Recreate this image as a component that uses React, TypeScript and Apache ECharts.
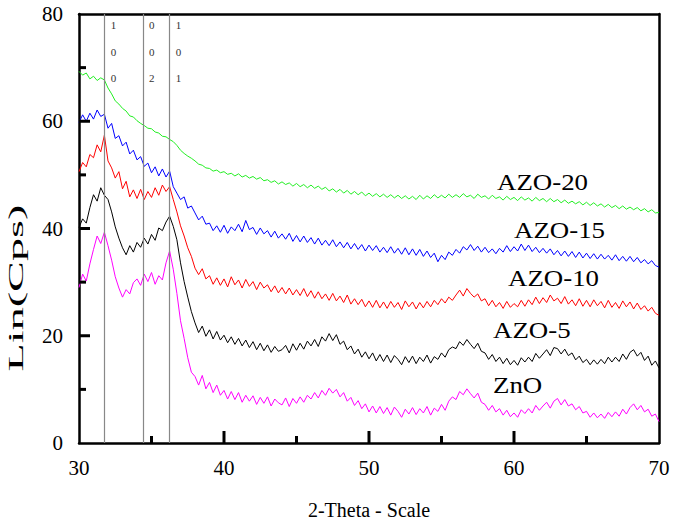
import React, { useEffect, useRef } from "react";
import * as echarts from "echarts";

const X_START = 30;
const X_STEP = 0.25;

const znO = [
  29.0, 31.5, 30.2, 33.4, 36.1, 38.6, 37.2, 39.3, 36.8, 34.1, 31.0, 28.9,
  27.2, 28.6, 27.8, 29.9, 30.6, 29.4, 31.5, 30.1, 31.8, 29.6, 31.2, 30.4,
  33.6, 35.8, 32.4, 27.9, 22.8, 19.5, 15.9, 13.2, 12.4, 10.8, 12.6, 10.1,
  11.3, 9.4, 10.8, 8.9, 9.8, 8.2, 9.6, 8.1, 9.4, 7.6, 8.9, 7.8,
  8.8, 7.2, 8.5, 7.4, 8.6, 6.9, 8.2, 7.5, 7.1, 8.4, 6.8, 8.3,
  7.4, 8.6, 7.6, 8.9, 8.2, 9.4, 8.4, 9.8, 8.9, 10.2, 9.3, 10.0,
  8.6, 9.4, 7.8, 8.5, 7.0, 7.9, 6.4, 7.3, 5.8, 6.9, 5.6, 6.8,
  5.5, 6.6, 5.2, 6.7, 5.9, 4.8, 6.3, 5.4, 6.6, 5.3, 6.4, 5.6,
  6.8, 5.2, 6.5, 5.9, 7.2, 6.1, 7.8, 8.6, 8.1, 9.6, 9.0, 10.1,
  9.2, 8.4, 9.3, 7.6, 7.2, 6.1, 7.0, 5.8, 6.4, 5.2, 6.1, 4.9,
  5.6, 4.8, 6.2, 5.5, 6.4, 5.6, 7.0, 6.1, 6.9, 7.6, 6.5, 7.8,
  8.3, 7.1, 8.1, 6.9, 7.3, 6.2, 6.8, 5.6, 5.9, 4.8, 5.6, 4.7,
  5.4, 4.6, 5.7, 4.9, 5.8, 5.0, 6.3, 5.4, 6.6, 7.3, 6.2, 7.0,
  5.8, 6.3, 5.0, 5.4, 4.0,
];

const azo5 = [
  40.2, 41.8, 41.0, 43.9, 46.3, 45.1, 47.6, 46.2, 45.4, 43.1, 40.3, 38.2,
  36.4, 35.1, 36.8, 35.6, 37.4, 36.5, 38.2, 37.1, 38.9, 37.8, 40.1, 39.6,
  41.2, 42.3, 40.4, 37.9, 33.6, 30.1, 27.2, 24.5, 22.4, 20.6, 21.8, 19.9,
  21.1, 19.4, 20.8, 19.2, 20.1, 18.7, 19.8, 18.4, 19.5, 18.1, 19.2, 17.8,
  18.9, 17.4, 18.6, 17.2, 18.3, 16.9, 18.0, 17.1, 17.4, 18.2, 16.8, 18.5,
  17.3, 18.6, 17.5, 19.0, 18.1, 19.3, 18.0, 19.8, 19.0, 20.4, 19.1, 20.2,
  18.4, 19.0, 17.4, 18.1, 16.6, 17.5, 16.0, 17.0, 15.7, 16.8, 15.3, 16.5,
  15.2, 16.4, 15.0, 16.3, 15.6, 14.6, 16.1, 15.0, 16.2, 14.8, 16.0, 15.2,
  16.4, 14.9, 16.1, 15.6, 16.8, 16.0, 17.4, 17.9, 17.6, 18.9, 18.2, 19.3,
  18.4, 17.6, 18.6, 17.1, 16.8, 15.6, 16.5, 15.2, 16.0, 14.8, 15.8, 14.6,
  15.4, 14.5, 15.9, 15.1, 16.0, 15.2, 16.7, 15.8, 16.6, 17.4, 16.3, 17.8,
  17.6, 16.6, 17.5, 16.3, 16.8, 15.5, 16.2, 15.0, 15.6, 14.6, 15.5, 14.7,
  15.6, 14.8, 16.0, 15.1, 16.0, 15.2, 16.6, 15.6, 16.9, 17.4, 16.2, 16.9,
  15.4, 16.2, 14.5, 15.3, 14.0,
];

const azo10 = [
  50.6, 52.3, 51.5, 53.8, 53.2, 55.6, 54.3, 57.4, 52.6, 51.3, 49.4, 50.6,
  47.4, 48.8, 45.9, 47.2, 45.6, 47.3, 45.4, 46.9, 45.8, 47.6, 46.2, 48.1,
  46.9, 47.8, 45.4, 43.1, 40.5, 38.6, 36.4, 34.8, 32.6, 31.4, 32.5, 30.6,
  31.2, 29.6, 30.8, 29.4, 30.6, 29.1, 31.0, 29.5, 30.4, 28.9, 30.5, 29.2,
  30.1, 28.6, 30.0, 28.9, 29.5, 28.2, 29.3, 28.0, 29.0, 27.8, 28.9, 27.6,
  28.6, 27.5, 28.8, 27.3, 28.4, 27.0, 28.2, 26.9, 27.8, 26.6, 27.9, 26.5,
  27.4, 26.2, 27.6, 25.9, 26.9, 25.8, 26.8, 25.4, 26.5, 25.3, 26.6, 25.2,
  26.3, 25.1, 26.4, 25.3, 26.2, 24.9, 26.5, 25.4, 26.3, 25.0, 26.2, 25.2,
  26.4, 25.4, 26.6, 25.8, 26.9, 26.1, 27.2, 26.6, 27.6, 28.5, 27.4, 28.8,
  27.9, 27.2, 27.8, 26.5, 26.9, 25.6, 26.6, 25.4, 26.2, 25.1, 26.4, 25.3,
  26.0, 25.4, 26.6, 25.5, 26.7, 25.8, 27.2, 26.0, 27.1, 26.2, 27.6, 26.5,
  27.0, 26.0, 27.3, 25.9, 26.7, 25.6, 26.9, 25.5, 26.6, 25.4, 26.7, 25.6,
  26.4, 25.2, 26.6, 25.3, 26.2, 25.1, 26.5, 25.4, 26.3, 25.0, 26.1, 24.9,
  25.6, 24.6, 25.3, 24.2, 23.8,
];

const azo15 = [
  59.8, 61.2, 60.0, 61.5, 60.4, 62.1, 60.9, 61.3, 58.7, 59.6, 56.8, 57.3,
  55.4, 56.1, 53.9, 54.6, 52.8, 53.4, 51.6, 52.2, 50.4, 51.5, 49.8, 51.1,
  49.6, 50.7, 47.8, 46.6, 45.4, 45.9, 43.8, 44.2, 42.9, 41.6, 42.3, 40.8,
  41.0, 39.6, 40.5, 39.3, 40.6, 39.1, 40.3, 39.6, 40.8, 39.4, 41.5, 39.8,
  40.2, 38.9, 40.1, 39.0, 39.6, 38.4, 39.5, 38.2, 39.0, 38.0, 39.1, 37.6,
  38.7, 37.5, 38.6, 37.4, 38.3, 37.1, 38.2, 36.9, 37.8, 36.8, 37.9, 36.6,
  37.5, 36.4, 37.4, 36.2, 37.2, 36.1, 37.0, 35.8, 36.9, 35.9, 36.8, 35.6,
  36.5, 35.5, 36.6, 35.4, 36.3, 35.2, 36.4, 35.1, 36.2, 35.0, 36.1, 34.8,
  35.8, 34.6, 35.4, 33.8, 35.0, 34.2, 35.6, 35.0, 36.1, 35.4, 36.6, 36.0,
  37.0, 35.9, 36.7, 35.6, 36.5, 35.5, 36.2, 35.3, 36.3, 35.6, 36.8, 35.7,
  36.6, 35.8, 37.1, 35.9, 36.9, 35.7, 36.5, 35.5, 36.3, 35.4, 36.2, 35.1,
  35.9, 34.9, 35.8, 34.8, 35.7, 34.6, 35.6, 34.5, 35.4, 34.4, 35.3, 34.3,
  35.2, 34.3, 35.0, 34.1, 35.1, 34.0, 34.8, 33.9, 34.8, 33.8, 34.6, 33.6,
  34.2, 33.4, 34.0, 33.1, 32.8,
];

const azo20 = [
  69.3, 68.6, 69.0, 67.9, 68.4, 67.6, 68.1, 67.7, 66.2, 65.1, 63.8, 63.2,
  62.4, 61.9, 61.0, 60.8, 60.1, 59.6, 59.2, 58.7, 58.6, 58.0, 57.8, 57.2,
  57.1, 56.6, 56.2, 55.5, 54.6, 54.0, 53.5, 53.1, 52.6, 52.0, 51.8, 51.3,
  51.2, 50.7, 50.9, 50.4, 50.6, 50.1, 50.3, 49.8, 50.2, 49.6, 49.9, 49.4,
  49.7, 49.2, 49.5, 48.9, 49.1, 48.6, 48.9, 48.3, 48.7, 48.2, 48.5, 47.9,
  48.4, 47.8, 48.2, 47.6, 48.1, 47.5, 47.9, 47.3, 47.7, 47.0, 47.4, 46.8,
  47.3, 46.6, 47.1, 46.4, 46.9, 46.3, 46.8, 46.1, 46.6, 46.0, 46.5, 45.9,
  46.4, 45.8, 46.3, 45.7, 46.2, 45.6, 46.1, 45.5, 46.0, 45.4, 46.2, 45.5,
  46.1, 45.6, 46.3, 45.7, 46.2, 45.7, 46.4, 45.8, 46.3, 45.8, 46.5, 45.9,
  46.2, 45.6, 46.4, 45.8, 46.1, 45.5, 46.2, 45.6, 45.9, 45.3, 46.0, 45.4,
  45.8, 45.2, 45.9, 45.3, 45.7, 45.1, 45.8, 45.2, 45.6, 45.0, 45.6, 45.0,
  45.4, 44.8, 45.3, 44.7, 45.1, 44.6, 45.0, 44.4, 44.9, 44.3, 44.8, 44.2,
  44.6, 44.0, 44.5, 43.9, 44.3, 43.7, 44.2, 43.6, 44.0, 43.5, 43.9, 43.3,
  43.7, 43.1, 43.5, 42.9, 43.0,
];

const seriesNames = ["ZnO", "AZO-5", "AZO-10", "AZO-15", "AZO-20"];
const seriesColors = ["#ff00ff", "#000000", "#ff0000", "#0000ff", "#22ee22"];
const seriesValues = [znO, azo5, azo10, azo15, azo20];

const peakPositions = [31.77, 34.42, 36.25];
const peakLabels = [["1", "0", "0"], ["0", "0", "2"], ["1", "0", "1"]];

const xTicks = [30, 40, 50, 60, 70];
const xMinorTicks = [35, 45, 55, 65];
const yTicks = [0, 20, 40, 60, 80];
const yMinorTicks = [10, 30, 50, 70];

const labelPos = [
  { name: "AZO-20", x: 497, y: 182 },
  { name: "AZO-15", x: 514, y: 230 },
  { name: "AZO-10", x: 508, y: 278 },
  { name: "AZO-5", x: 493, y: 330 },
  { name: "ZnO", x: 493, y: 385 },
];

const FONT = "'Liberation Serif', 'Times New Roman', serif";

export default function App() {
  const ref = useRef<HTMLDivElement>(null);
  useEffect(() => {
    if (!ref.current) return;
    const chart = echarts.init(ref.current, undefined, { renderer: "svg" });
    const series: any[] = seriesValues.map((vals, si) => ({
      name: seriesNames[si],
      type: "line",
      showSymbol: false,
      symbol: "none",
      data: vals.map((v, i) => [X_START + i * X_STEP, v]),
      lineStyle: { color: seriesColors[si], width: 1 },
      itemStyle: { color: seriesColors[si] },
      z: 3,
    }));
    series.push({
      type: "line",
      data: [],
      markLine: {
        silent: true,
        symbol: "none",
        label: { show: false },
        lineStyle: { color: "#888", width: 1.2, type: "solid" },
        data: peakPositions.map((p) => ({ xAxis: p })),
      },
      z: 2,
    });
    const axisLine = { show: true, onZero: false, lineStyle: { color: "#000", width: 2.5 } };
    chart.setOption({
      animation: false,
      backgroundColor: "#fff",
      grid: { left: 79, right: 16, top: 14, bottom: 77, outerBoundsMode: "none", containLabel: false },
      xAxis: [
        {
          type: "value",
          min: xTicks[0],
          max: xTicks[xTicks.length - 1],
          interval: 10,
          position: "bottom",
          axisLine,
          axisTick: { show: false },
          splitLine: { show: false },
          axisLabel: { color: "#000", fontFamily: FONT, fontSize: 21, margin: 14 },
          name: "2-Theta - Scale",
          nameLocation: "middle",
          nameGap: 57,
          nameTextStyle: { color: "#000", fontFamily: FONT, fontSize: 20 },
        },
        {
          type: "value",
          min: 30,
          max: 70,
          position: "top",
          axisLine,
          axisTick: { show: false },
          axisLabel: { show: false },
          splitLine: { show: false },
        },
      ],
      yAxis: [
        {
          type: "value",
          min: yTicks[0],
          max: yTicks[yTicks.length - 1],
          interval: 20,
          position: "left",
          axisLine,
          axisTick: { show: false },
          splitLine: { show: false },
          axisLabel: { color: "#000", fontFamily: FONT, fontSize: 21, margin: 16 },
        },
        {
          type: "value",
          min: 0,
          max: 80,
          position: "right",
          axisLine,
          axisTick: { show: false },
          axisLabel: { show: false },
          splitLine: { show: false },
        },
      ],
      series,
    });

    const graphics: any[] = labelPos.map((l) => ({
      type: "text",
      x: l.x,
      y: l.y,
      scaleX: 1.12,
      style: {
        text: l.name,
        fontFamily: FONT,
        fontSize: 24,
        fill: "#000",
        textAlign: "left",
        textVerticalAlign: "middle",
      },
      z: 10,
    }));
    graphics.push({
      type: "text",
      x: 16,
      y: 288,
      rotation: Math.PI / 2,
      scaleX: 2.1,
      style: {
        text: "Lin(Cps)",
        fontFamily: FONT,
        fontSize: 22,
        fill: "#000",
        textAlign: "center",
        textVerticalAlign: "middle",
      },
    });
    peakPositions.forEach((p, pi) => {
      const px = chart.convertToPixel({ xAxisIndex: 0 }, p) as number;
      peakLabels[pi].forEach((t, ti) => {
        graphics.push({
          type: "text",
          x: px + 6,
          y: 25 + ti * 26.5,
          style: {
            text: t,
            fontFamily: FONT,
            fontSize: 11,
            fill: "#333",
            textAlign: "left",
            textVerticalAlign: "middle",
          },
          z: 10,
        });
      });
    });
    // inward axis ticks, positioned through the axes' scales
    const y0 = chart.convertToPixel({ yAxisIndex: 0 }, yTicks[0]) as number;
    const x0 = chart.convertToPixel({ xAxisIndex: 0 }, xTicks[0]) as number;
    const addXTick = (v: number, len: number) => {
      const px = chart.convertToPixel({ xAxisIndex: 0 }, v) as number;
      graphics.push({
        type: "rect",
        shape: { x: px - 1.5, y: y0 - len, width: 3, height: len },
        style: { fill: "#000" },
        z: 50,
      });
    };
    const addYTick = (v: number, len: number) => {
      const py = chart.convertToPixel({ yAxisIndex: 0 }, v) as number;
      graphics.push({
        type: "rect",
        shape: { x: x0, y: py - 1.5, width: len, height: 3 },
        style: { fill: "#000" },
        z: 50,
      });
    };
    xTicks.slice(1, -1).forEach((v) => addXTick(v, 12));
    xMinorTicks.forEach((v) => addXTick(v, 7));
    yTicks.slice(1, -1).forEach((v) => addYTick(v, 11));
    yMinorTicks.forEach((v) => addYTick(v, 7));

    chart.setOption({ graphic: graphics });

    return () => chart.dispose();
  }, []);
  return (
    <div
      ref={ref}
      style={{ position: "absolute", left: 0, top: 0, width: 675, height: 520 }}
    />
  );
}
